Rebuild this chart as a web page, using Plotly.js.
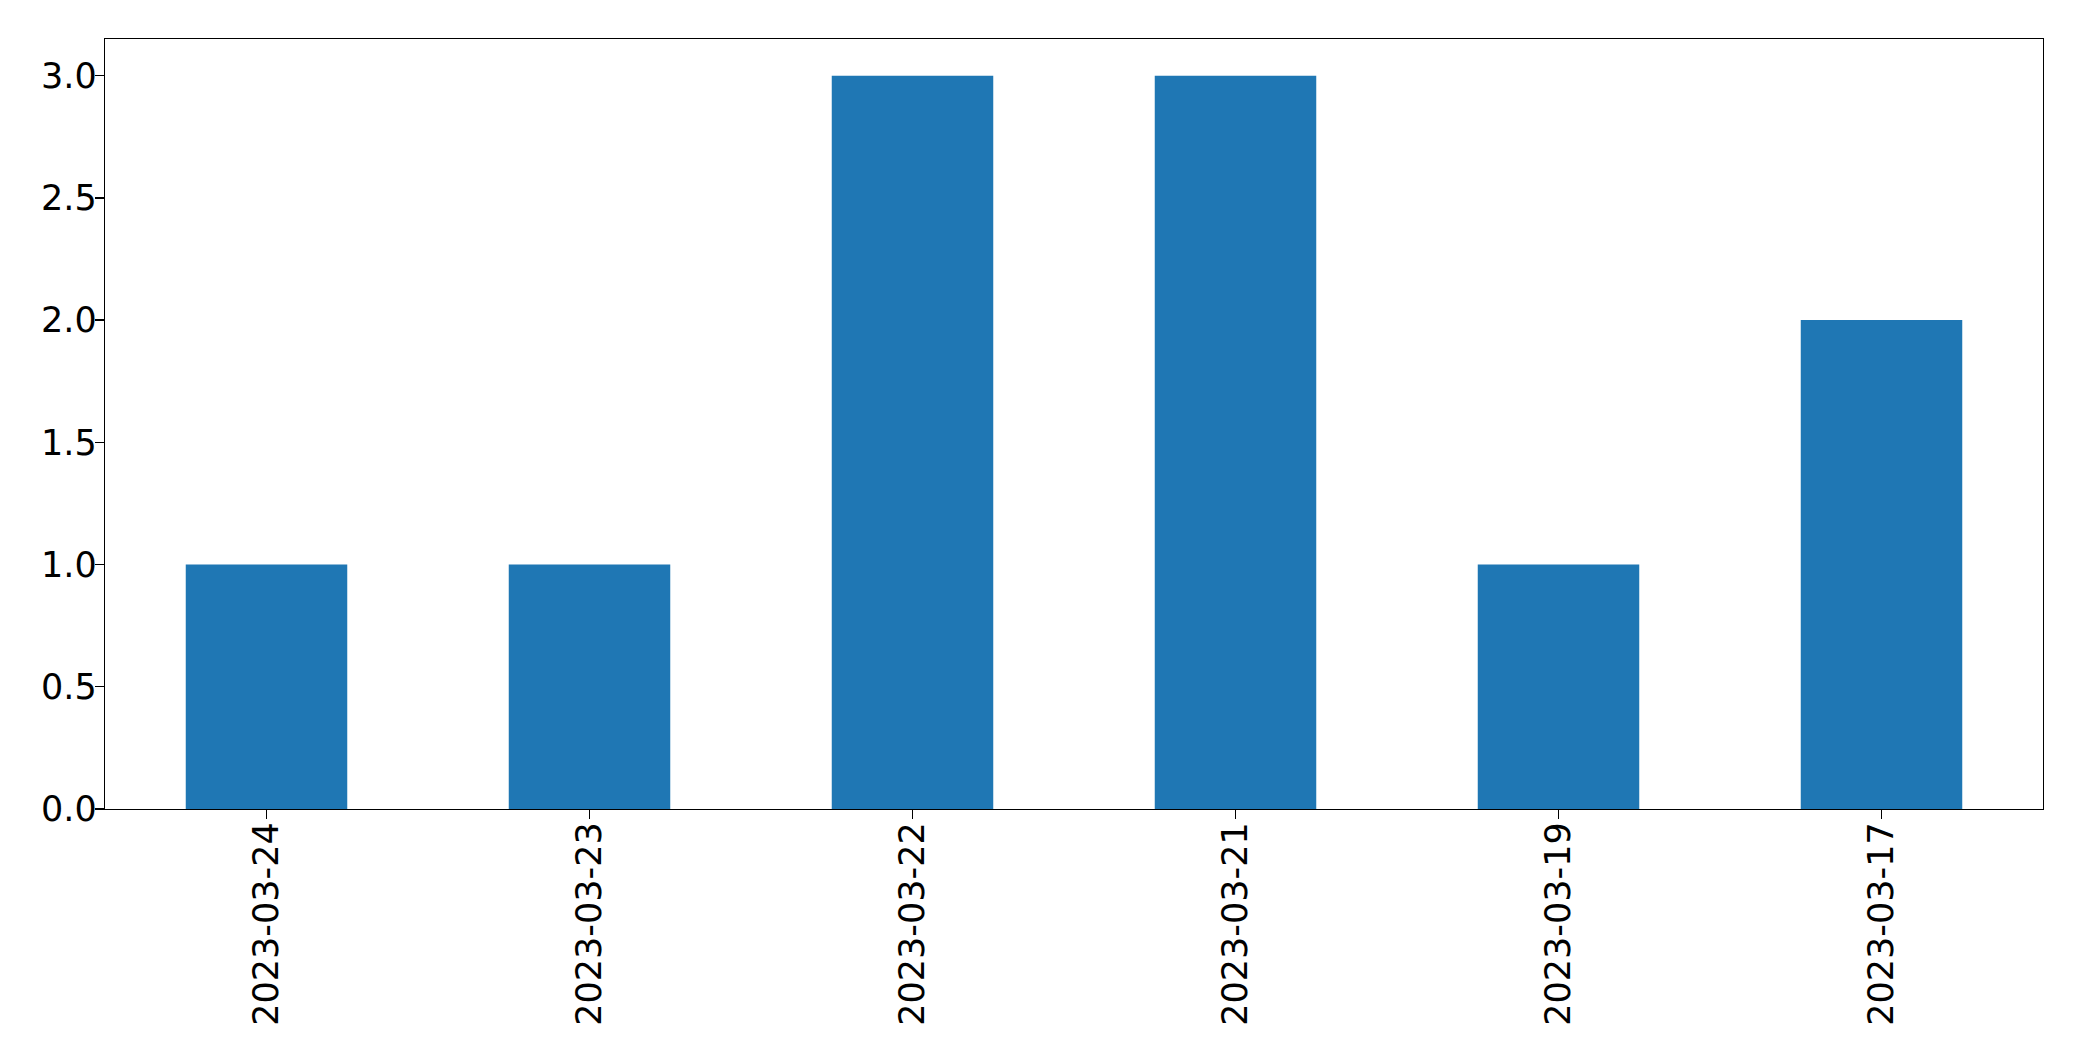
<!DOCTYPE html>
<html>
<head>
<meta charset="utf-8">
<script src="https://cdn.plot.ly/plotly-3.0.1.min.js"></script>
<style>html,body{margin:0;padding:0;background:#fff;}#chart{width:2082px;height:1061px;}</style>
</head>
<body>
<div id="chart"></div>
<script>
const categories = ["2023-03-24", "2023-03-23", "2023-03-22", "2023-03-21", "2023-03-19", "2023-03-17"];
const counts = [1, 1, 3, 3, 1, 2];
const yTicks = [0, 0.5, 1, 1.5, 2, 2.5, 3];
const yTickLabels = ["0.0", "0.5", "1.0", "1.5", "2.0", "2.5", "3.0"];

const font = {family: "DejaVu Sans, sans-serif", size: 35, color: "#000"};

Plotly.newPlot("chart", [{
  type: "bar",
  x: categories,
  y: counts,
  width: 0.5,
  marker: {color: "#1f77b4", line: {width: 0}},
  hoverinfo: "skip"
}], {
  width: 2082,
  height: 1061,
  margin: {l: 105, r: 39, t: 39, b: 252, pad: 0},
  paper_bgcolor: "#fff",
  plot_bgcolor: "#fff",
  showlegend: false,
  font: font,
  xaxis: {
    type: "category",
    range: [-0.5, 5.5],
    tickangle: -90,
    ticks: "outside",
    ticklen: 9,
    tickwidth: 1.3,
    tickcolor: "#000",
    ticklabelstandoff: -11,
    showline: true,
    linecolor: "#000",
    linewidth: 1.3,
    mirror: true,
    showgrid: false,
    zeroline: false,
    tickfont: font,
    automargin: false
  },
  yaxis: {
    range: [0, 3.15],
    tickmode: "array",
    tickvals: yTicks,
    ticktext: yTickLabels,
    ticks: "outside",
    ticklen: 9,
    tickwidth: 1.3,
    tickcolor: "#000",
    ticklabelstandoff: -9,
    showline: true,
    linecolor: "#000",
    linewidth: 1.3,
    mirror: true,
    showgrid: false,
    zeroline: false,
    tickfont: font,
    automargin: false
  }
}, {displayModeBar: false, staticPlot: true});
</script>
</body>
</html>
